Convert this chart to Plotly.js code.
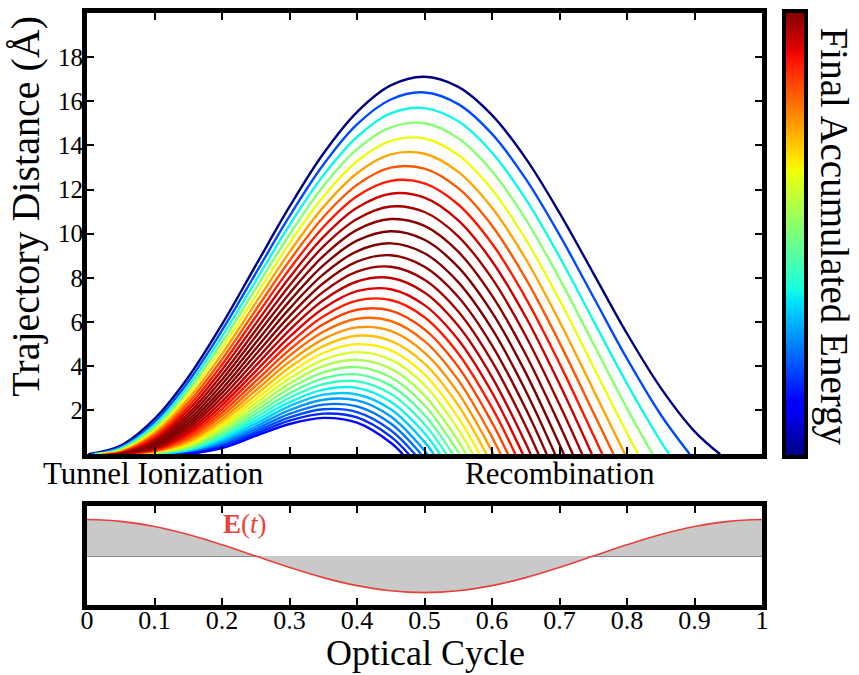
<!DOCTYPE html>
<html>
<head>
<meta charset="utf-8">
<script src="https://cdn.plot.ly/plotly-3.0.1.min.js"></script>
<style>html,body{margin:0;padding:0;background:#fff}#chart{width:859px;height:675px}</style>
</head>
<body>
<div id="chart"></div>
<script>
// ---------- data ----------
// sampling times (optical cycles) at which trajectory distances were read
const sampleTimes = [0.05,0.10,0.15,0.20,0.25,0.30,0.35,0.40,0.45,0.50,0.55,0.60,0.65,0.70,0.75,0.80,0.85,0.90,0.95];
// ionization (start) and recombination (end) time of each trajectory
const ionizationTimes = [0.0020,0.0062,0.0104,0.0145,0.0187,0.0229,0.0270,0.0312,0.0354,0.0395,0.0437,0.0479,0.0520,0.0562,0.0604,0.0645,0.0687,0.0729,0.0770,0.0812,0.0854,0.0895,0.0937,0.0979,0.1020,0.1062,0.1104,0.1145,0.1187,0.1229,0.1270,0.1312,0.1354,0.1395,0.1437];
const recombinationTimes = [0.938,0.893,0.8625,0.838,0.8165,0.797,0.780,0.7635,0.748,0.7336,0.7197,0.7064,0.6935,0.6811,0.669,0.6573,0.6458,0.6346,0.6237,0.6129,0.6023,0.5919,0.5817,0.5716,0.5617,0.5519,0.5421,0.5325,0.5231,0.5137,0.5043,0.4951,0.4859,0.4768,0.4678];
// final accumulated energy of each trajectory (colour value)
const finalEnergies = [0.307,0.876,1.363,1.778,2.127,2.416,2.652,2.837,2.978,3.078,3.141,3.170,3.170,3.143,3.093,3.022,2.937,2.835,2.720,2.597,2.464,2.330,2.189,2.049,1.904,1.765,1.622,1.486,1.354,1.226,1.104,0.990,0.878,0.775,0.682];
// trajectory distance (Å) at sampleTimes, null = trajectory not alive
const distances = [
 [0.39,1.60,3.49,5.89,8.56,11.22,13.62,15.51,16.72,17.11,16.65,15.37,13.41,10.94,8.21,5.47,3.01,1.04],
 [0.33,1.46,3.29,5.61,8.20,10.79,13.12,14.95,16.08,16.40,15.87,14.52,12.48,9.94,7.14,4.33,1.79],
 [0.27,1.33,3.08,5.34,7.86,10.38,12.63,14.38,15.45,15.69,15.09,13.67,11.56,8.95,6.07,3.20,0.58],
 [0.21,1.20,2.89,5.07,7.52,9.96,12.15,13.83,14.82,15.00,14.32,12.83,10.65,7.96,5.02,2.07],
 [0.17,1.08,2.69,4.81,7.18,9.56,11.67,13.28,14.20,14.31,13.56,12.00,9.74,6.99,3.97,0.95],
 [0.12,0.97,2.51,4.55,6.86,9.16,11.20,12.74,13.59,13.62,12.80,11.17,8.85,6.02,2.93],
 [0.09,0.87,2.33,4.30,6.54,8.77,10.74,12.21,12.99,12.95,12.06,10.36,7.96,5.06,1.90],
 [0.06,0.77,2.16,4.06,6.23,8.39,10.29,11.69,12.39,12.28,11.32,9.55,7.08,4.12,0.88],
 [0.04,0.67,2.00,3.83,5.92,8.01,9.84,11.17,11.81,11.63,10.60,8.75,6.22,3.18],
 [0.02,0.58,1.84,3.60,5.62,7.65,9.41,10.66,11.23,10.98,9.88,7.97,5.36,2.25],
 [0.01,0.50,1.69,3.38,5.34,7.29,8.98,10.17,10.66,10.35,9.18,7.19,4.52,1.34],
 [null,0.43,1.55,3.17,5.05,6.94,8.56,9.68,10.11,9.72,8.48,6.43,3.69,0.44],
 [null,0.36,1.41,2.96,4.78,6.60,8.15,9.20,9.56,9.11,7.80,5.68,2.87],
 [null,0.30,1.28,2.77,4.52,6.26,7.75,8.73,9.02,8.50,7.13,4.94,2.06],
 [null,0.24,1.16,2.58,4.26,5.94,7.36,8.28,8.50,7.91,6.47,4.21,1.27],
 [null,0.19,1.04,2.39,4.01,5.63,6.98,7.83,7.99,7.33,5.82,3.50,0.49],
 [null,0.15,0.93,2.22,3.77,5.32,6.61,7.39,7.48,6.76,5.19,2.80],
 [null,0.11,0.83,2.05,3.54,5.02,6.24,6.96,6.99,6.21,4.57,2.11],
 [null,0.08,0.73,1.89,3.31,4.73,5.89,6.55,6.51,5.66,3.96,1.44],
 [null,0.05,0.64,1.74,3.10,4.46,5.55,6.14,6.04,5.13,3.36,0.78],
 [null,0.03,0.56,1.59,2.89,4.19,5.22,5.75,5.59,4.61,2.78,0.14],
 [null,0.02,0.48,1.46,2.69,3.93,4.90,5.37,5.14,4.11,2.22],
 [null,0.01,0.41,1.32,2.50,3.67,4.59,4.99,4.71,3.62,1.66],
 [null,null,0.35,1.20,2.32,3.43,4.28,4.63,4.29,3.14,1.13],
 [null,null,0.29,1.09,2.14,3.20,3.99,4.28,3.88,2.67,0.60],
 [null,null,0.24,0.98,1.98,2.98,3.71,3.95,3.49,2.22,0.10],
 [null,null,0.19,0.87,1.82,2.76,3.44,3.62,3.11,1.78],
 [null,null,0.15,0.78,1.67,2.56,3.18,3.31,2.74,1.36],
 [null,null,0.12,0.69,1.53,2.36,2.93,3.01,2.38,0.95],
 [null,null,0.09,0.61,1.39,2.18,2.70,2.71,2.04,0.56],
 [null,null,0.06,0.53,1.26,2.00,2.47,2.44,1.71,0.17],
 [null,null,0.04,0.46,1.14,1.83,2.25,2.17,1.39],
 [null,null,0.02,0.40,1.03,1.67,2.04,1.91,1.09],
 [null,null,0.01,0.34,0.93,1.52,1.84,1.67,0.80],
 [null,null,null,0.28,0.83,1.37,1.65,1.43,0.52]
];
// laser field E(t) in the lower panel (normalised)
const fieldTimes = [0,0.05,0.10,0.15,0.20,0.25,0.30,0.35,0.40,0.45,0.50,0.55,0.60,0.65,0.70,0.75,0.80,0.85,0.90,0.95,1.00];
const fieldValues = [1,0.95,0.81,0.59,0.31,0,-0.31,-0.59,-0.81,-0.95,-1,-0.95,-0.81,-0.59,-0.31,0,0.31,0.59,0.81,0.95,1];
// ticks
const xTickVals = [0,0.1,0.2,0.3,0.4,0.5,0.6,0.7,0.8,0.9,1];
const xTickText = ['0','0.1','0.2','0.3','0.4','0.5','0.6','0.7','0.8','0.9','1'];
const yTickVals = [2,4,6,8,10,12,14,16,18];

// ---------- styling ----------
const FONT = '"Liberation Serif", "Times New Roman", serif';
const jetStops = [[0,[0,0,128]],[0.11,[0,0,255]],[0.125,[0,0,255]],[0.34,[0,219,255]],[0.35,[0,229,247]],[0.375,[21,255,226]],[0.64,[239,255,8]],[0.66,[255,236,0]],[0.89,[255,19,0]],[0.91,[232,0,0]],[1,[128,0,0]]];
const jetScale = jetStops.map(s => [s[0], 'rgb(' + s[1].join(',') + ')']);
function jet(v) {
  v = Math.max(0, Math.min(1, v));
  for (let i = 1; i < jetStops.length; i++) {
    if (v <= jetStops[i][0]) {
      const a = jetStops[i-1], b = jetStops[i];
      const f = (v - a[0]) / (b[0] - a[0] || 1);
      const c = a[1].map((x, j) => Math.round(x + (b[1][j] - x) * f));
      return 'rgb(' + c.join(',') + ')';
    }
  }
  return 'rgb(128,0,0)';
}
const eMin = Math.min(...finalEnergies), eMax = Math.max(...finalEnergies);

const W = 859, H = 675, ML = 87, MR = 97, MT = 12, MB = 70;
const PW = W - ML - MR, PH = H - MT - MB;
const px = x => (x - ML) / PW;
const py = y => 1 - (y - MT) / PH;

const traces = [];
distances.forEach((row, k) => {
  const xs = [ionizationTimes[k]], ys = [0];
  row.forEach((d, i) => { if (d !== null && d !== undefined) { xs.push(sampleTimes[i]); ys.push(d); } });
  xs.push(recombinationTimes[k]); ys.push(0);
  traces.push({
    type: 'scatter', mode: 'lines', x: xs, y: ys, xaxis: 'x', yaxis: 'y',
    line: {color: jet((finalEnergies[k] - eMin) / (eMax - eMin)), width: 2.4, shape: 'spline', smoothing: 1},
    hoverinfo: 'skip', showlegend: false
  });
});
// colour bar carrier
traces.push({
  type: 'scatter', mode: 'markers', x: [0.5, 0.5], y: [-5, -5], xaxis: 'x', yaxis: 'y',
  marker: {size: 1, color: [eMin, eMax], cmin: eMin, cmax: eMax, colorscale: jetScale, showscale: true,
    colorbar: {x: px(784), xanchor: 'left', y: py(234), yanchor: 'middle', len: 446 / PH, lenmode: 'fraction',
      thickness: 22, thicknessmode: 'pixels', outlinewidth: 4, outlinecolor: '#000', xpad: 0, ypad: 0,
      showticklabels: false, ticks: '', borderwidth: 0}},
  hoverinfo: 'skip', showlegend: false
});
// field panel
traces.push({
  type: 'scatter', mode: 'lines', x: fieldTimes, y: fieldValues, xaxis: 'x2', yaxis: 'y2',
  line: {color: '#e8403a', width: 1.6, shape: 'spline', smoothing: 1},
  fill: 'tozeroy', fillcolor: 'rgb(201,201,201)', hoverinfo: 'skip', showlegend: false
});

const frame = {showline: true, linewidth: 5, linecolor: '#000', mirror: 'ticks', showgrid: false, zeroline: false, layer: 'above traces'};
const topBottom = (605 - 454) / PH;
const layout = {
  width: W, height: H, autosize: false,
  margin: {l: ML, r: MR, t: MT, b: MB, pad: 0},
  paper_bgcolor: '#fff', plot_bgcolor: '#fff',
  font: {family: FONT, color: '#000'},
  showlegend: false,
  xaxis: Object.assign({}, frame, {domain: [0, 1], anchor: 'y', range: [0, 1], tickvals: xTickVals, showticklabels: false,
    ticks: 'inside', ticklen: 7, tickwidth: 2, tickcolor: '#000'}),
  yaxis: Object.assign({}, frame, {domain: [topBottom, 1], anchor: 'x', range: [0, 20], tickvals: yTickVals,
    ticks: 'inside', ticklen: 7, tickwidth: 2, tickcolor: '#000', tickfont: {family: FONT, size: 25}, ticklabelstandoff: -6}),
  xaxis2: Object.assign({}, frame, {domain: [0, 1], anchor: 'y2', range: [0, 1], tickvals: xTickVals, ticktext: xTickText,
    ticks: 'inside', ticklen: 7, tickwidth: 2, tickcolor: '#000', tickfont: {family: FONT, size: 26}, ticklabelstandoff: -12}),
  yaxis2: Object.assign({}, frame, {domain: [0, (605 - 505.5) / PH], anchor: 'x2', range: [-1.34, 1.38],
    showticklabels: false, ticks: '', mirror: true,
    zeroline: true, zerolinecolor: '#8a8a8a', zerolinewidth: 1}),
  annotations: [
    {text: 'Trajectory Distance (Å)', xref: 'paper', yref: 'paper', x: px(26), y: py(206), textangle: -90,
      showarrow: false, xanchor: 'center', yanchor: 'middle', font: {family: FONT, size: 40, color: '#000'}},
    {text: 'Final Accumulated Energy', xref: 'paper', yref: 'paper', x: px(834), y: py(236), textangle: 90,
      showarrow: false, xanchor: 'center', yanchor: 'middle', font: {family: FONT, size: 39, color: '#000'}},
    {text: 'Tunnel Ionization', xref: 'paper', yref: 'paper', x: px(153), y: py(473),
      showarrow: false, xanchor: 'center', yanchor: 'middle', font: {family: FONT, size: 31, color: '#000'}},
    {text: 'Recombination', xref: 'paper', yref: 'paper', x: px(560), y: py(473),
      showarrow: false, xanchor: 'center', yanchor: 'middle', font: {family: FONT, size: 31, color: '#000'}},
    {text: '<b>E</b>(<i>t</i>)', xref: 'paper', yref: 'paper', x: px(245), y: py(524),
      showarrow: false, xanchor: 'center', yanchor: 'middle', font: {family: FONT, size: 27, color: '#e8403a'}},
    {text: 'Optical Cycle', xref: 'paper', yref: 'paper', x: px(425), y: py(675),
      showarrow: false, xanchor: 'center', yanchor: 'bottom', font: {family: FONT, size: 36, color: '#000'}}
  ]
};
Plotly.newPlot('chart', traces, layout, {staticPlot: true, displayModeBar: false});
</script>
</body>
</html>
